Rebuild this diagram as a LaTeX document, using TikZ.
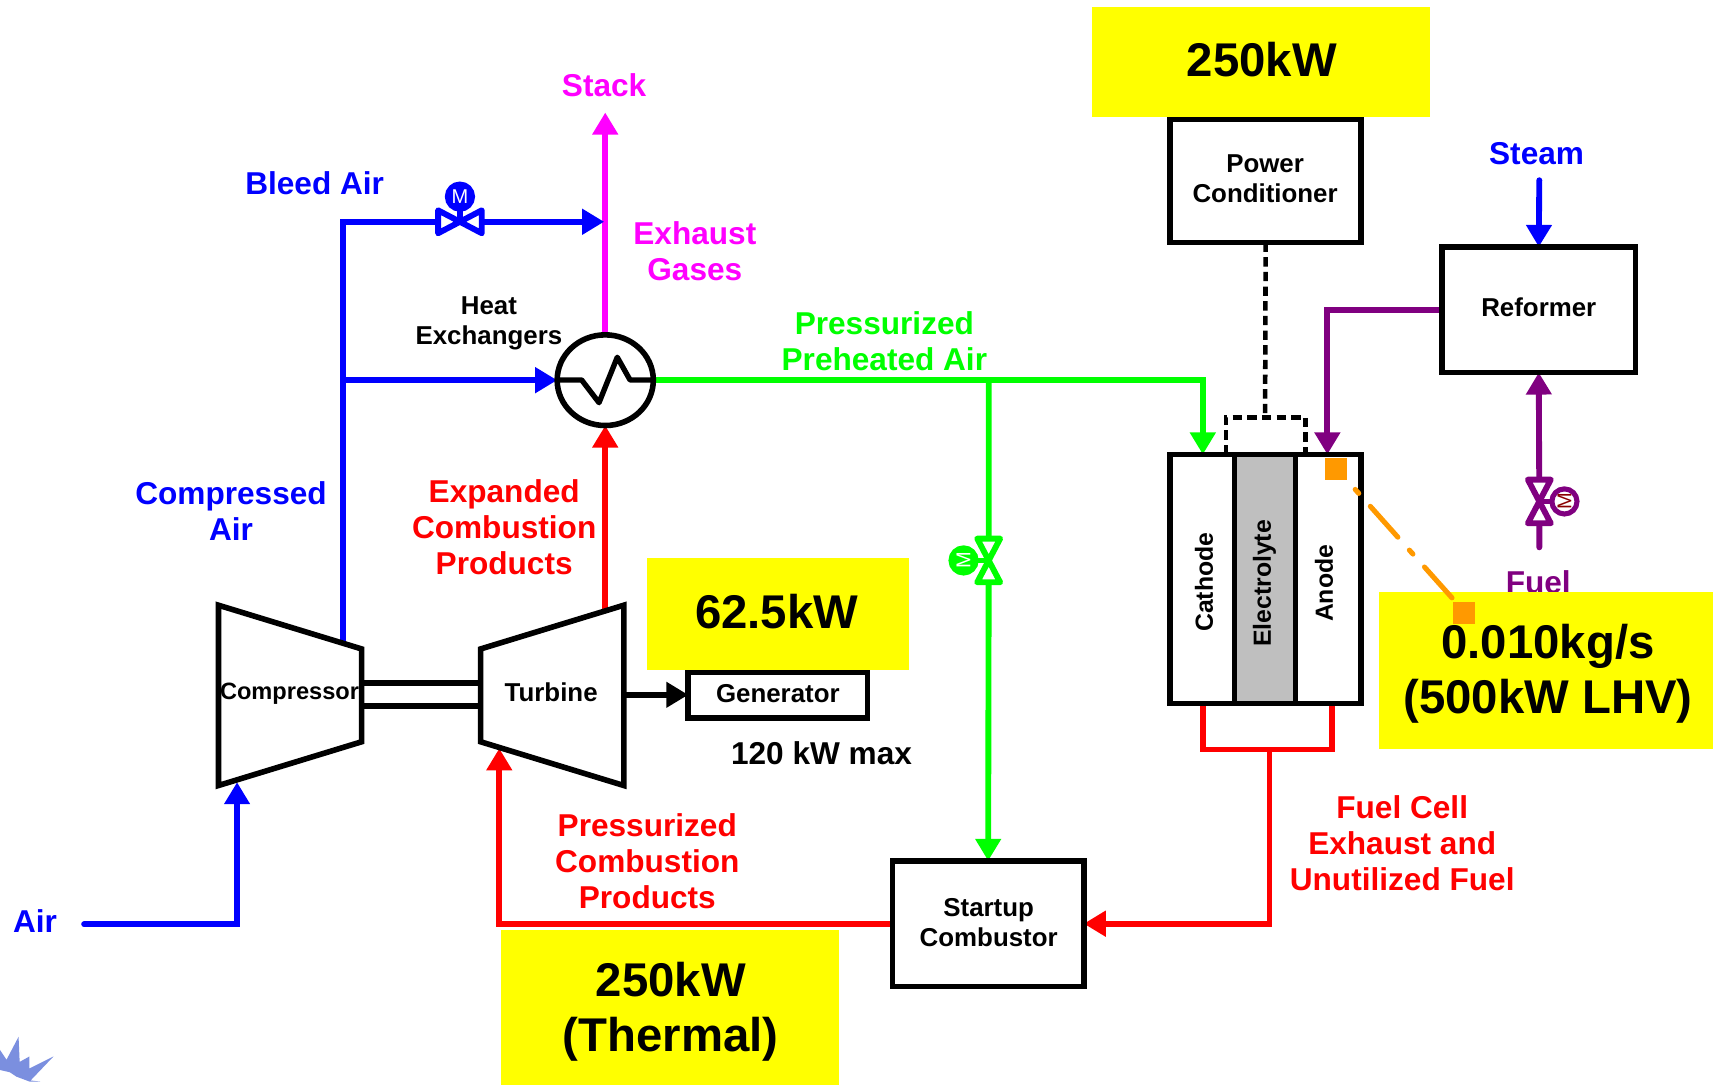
\documentclass[tikz,border=0pt]{standalone}
\usepackage{fontspec}
\setmainfont{Liberation Sans}
\usetikzlibrary{arrows.meta,shapes.geometric}
\pgfdeclarelayer{lines}
\pgfsetlayers{lines,main}
\def\un{0.8194pt}
\definecolor{cblue}{HTML}{0000FF}
\definecolor{cred}{HTML}{FF0000}
\definecolor{cgreen}{HTML}{00FF00}
\definecolor{cmag}{HTML}{FF00FF}
\definecolor{cpur}{HTML}{800080}
\definecolor{cyel}{HTML}{FFFF00}
\definecolor{corg}{HTML}{FF9900}
\definecolor{cgray}{HTML}{BFBFBF}
\definecolor{cstar}{HTML}{7B8FDF}
\definecolor{cdred}{HTML}{8B0000}
\tikzset{
  tip/.tip={Triangle[length=16.5pt,width=18.5pt]},
  flow/.style={line width=4.4pt,line join=miter,-{tip}},
  flowplain/.style={line width=4.4pt,line join=miter},
  blk/.style={draw=black,line width=4.2pt,fill=white,align=center,inner sep=0pt,outer sep=0pt,font=\smalltxt},
  lbl/.style={align=center,inner sep=0pt,font=\midtxt},
  smalllbl/.style={align=center,inner sep=0pt,font=\smalltxt},
  bigbox/.style={fill=cyel,inner sep=0pt,align=center,font=\bigtxt},
  osquare/.style={fill=corg,inner sep=0pt,minimum width=20*\un,minimum height=20*\un},
  machine/.style={draw=black,line width=4.2pt,line join=miter,fill=white},
  celllbl/.style={rotate=90,align=center,inner sep=0pt,font=\fontsize{18.6}{22}\bfseries\selectfont},
}
\newcommand\smalltxt{\fontsize{19.4}{22}\bfseries\selectfont}
\newcommand\midtxt{\fontsize{23.7}{27}\bfseries\selectfont}
\newcommand\bigtxt{\fontsize{35.5}{41}\bfseries\selectfont}
% name, x, y, rotation, colour, disc fill, letter colour, letter rotation
\newcommand\valvesym[8]{%
  \begin{scope}[shift={(#2,#3)},rotate=#4]
    \draw[#5,line width=4.4pt,line join=round,fill=white]
      (-20,-10.5) -- (20,10.5) -- (20,-10.5) -- (-20,10.5) -- cycle;
    \draw[#5,line width=4.4pt] (0,0) -- (0,-15);
    \draw[#5,line width=3.8pt,fill=#6] (0,-23) circle[radius=11.5];
    \node[text=#7,inner sep=0pt,font=\fontsize{15}{15}\selectfont,rotate=#8] (#1m) at (0,-23) {M};
  \end{scope}}
\begin{document}
\begin{tikzpicture}[x=\un,y=-\un]
\useasboundingbox (0,0) rectangle (1568,993.2);
% named points
\coordinate (airStart) at (77,846);
\coordinate (compIn) at (217,716);
\coordinate (compOut) at (314,590);
\coordinate (bleedTop) at (314,203);
\coordinate (hxTee) at (314,348);
\coordinate (v1) at (421,203);
\coordinate (stackTee) at (553,203);
\coordinate (stackTop) at (554,103);
\coordinate (turbOut) at (554,557);
\coordinate (turbIn) at (457,685);
\coordinate (greenTee) at (905,348);
\coordinate (v2) at (905,513);
\coordinate (v3) at (1409,459);
\coordinate (fuelStart) at (1409,501);
\coordinate (steamStart) at (1409,165);
\coordinate (dashTee) at (1158,382);
\coordinate (redTee) at (1162,686);
\coordinate (cathIn) at (1101,416);
\coordinate (anIn) at (1215,416);
\coordinate (cathOut) at (1101,644);
\coordinate (anOut) at (1219,644);
\coordinate (dashL) at (1122,416);
\coordinate (dashR) at (1195,416);
\coordinate (shaftA1) at (331,625);
\coordinate (shaftA2) at (440,625);
\coordinate (shaftB1) at (331,646);
\coordinate (shaftB2) at (440,646);
\coordinate (turbE) at (571,636);
\coordinate (o1) at (1240.5,448);
\coordinate (o2) at (1336,555);
% nodes connected below
\node[blk,minimum width=175*\un,minimum height=113*\un] (pc) at (1158.5,165.5) {};
\node[smalllbl] (pct) at (1158,163.5) {Power\\Conditioner};
\node[blk,minimum width=177*\un,minimum height=115*\un] (ref) at (1408.5,283.5) {};
\node[smalllbl] (reft) at (1408.5,281.5) {Reformer};
\node[blk,minimum width=164*\un,minimum height=42*\un] (gen) at (712,636) {};
\node[smalllbl] (gent) at (712,635) {Generator};
\node[blk,minimum width=175*\un,minimum height=115*\un] (comb) at (904.5,845.5) {};
\node[smalllbl] (combt) at (905,844.5) {Startup\\Combustor};
\node[draw=black,line width=4.2pt,fill=white,ellipse,inner sep=0pt,outer sep=0pt,minimum width=88*\un,minimum height=83*\un] (hx) at (554,348) {};
\node[draw=black,line width=4.2pt,fill=white,inner sep=0pt,outer sep=0pt,minimum width=175*\un,minimum height=228*\un] (cell) at (1158.5,530) {};
% connectors
\begin{pgfonlayer}{lines}
\draw[flow,cblue,line cap=round] (airStart) -| (compIn);
\draw[flowplain,cblue] (compOut) -- (hxTee);
\draw[flow,cblue] (hxTee) -- (hx.west);
\draw[flow,cmag] (hx.north) -- (stackTop);
\draw[flow,cblue] (hxTee) -- (bleedTop) -- (v1) -- (stackTee);
\draw[flow,cred] (turbOut) -- (hx.south);
\draw[flow,cgreen] (hx.east) -- (greenTee) -| (cathIn);
\draw[flow,cgreen] (greenTee) -- (v2) -- (comb.north);
\draw[flow,cpur] (ref.west) -| (anIn);
\draw[flow,cpur,line cap=round] (fuelStart) -- (v3) -- (ref.south);
\draw[flow,cblue,line cap=round] (steamStart) -- (ref.north);
\draw[flowplain,cred] (cathOut) |- (redTee) -| (anOut);
\draw[flow,cred] (redTee) |- (comb.east);
\draw[flow,cred] (comb.west) -| (turbIn);
\draw[black,line width=3.4pt,dash pattern=on 7pt off 4pt] (pc.south) -- (dashTee);
\draw[black,line width=3.4pt,dash pattern=on 7pt off 4pt] (dashL) |- (dashTee) -| (dashR);
\draw[black,line width=4.4pt] (shaftA1) -- (shaftA2);
\draw[black,line width=4.4pt] (shaftB1) -- (shaftB2);
\draw[flow,black] (turbE) -- (gen.west);
\end{pgfonlayer}
% machines
\draw[machine] (200,554) -- (331,594) -- (331,679) -- (200,719) -- cycle;
\draw[machine] (440,594) -- (571,554) -- (571,719) -- (440,679) -- cycle;
\draw[black,line width=4pt,line join=round] (512.6,347.8) -- (532.4,347.8) -- (548.3,368.6) -- (565,327) -- (576.7,347.8) -- (596.5,347.8);
% fuel cell interior
\node[draw=black,line width=4.2pt,fill=cgray,inner sep=0pt,outer sep=0pt,minimum width=56*\un,minimum height=228*\un] (elec) at (1158,530) {};
\node[celllbl] (tCath) at (1102,533) {Cathode};
\node[celllbl] (tElec) at (1157.5,534) {Electrolyte};
\node[celllbl] (tAn) at (1212,534) {Anode};
% valves
\valvesym{vb}{421}{203}{0}{cblue}{cblue}{white}{0}
\valvesym{vg}{905}{513}{90}{cgreen}{cgreen}{white}{90}
\valvesym{vp}{1409}{459}{-90}{cpur}{white}{cdred}{90}
% labels
\node[lbl,text=cpur] (fuel) at (1408,533) {Fuel};
% yellow boxes
\node[bigbox,minimum width=309*\un,minimum height=101*\un] (y1) at (1154.5,56.5) {};
\node[inner sep=0pt,font=\bigtxt] (y1t) at (1155,54.5) {250kW};
\node[bigbox,minimum width=240*\un,minimum height=102*\un] (y2) at (712,562) {};
\node[inner sep=0pt,font=\bigtxt] (y2t) at (711,560) {62.5kW};
\node[bigbox,minimum width=306*\un,minimum height=144*\un] (y3) at (1415,614) {};
\node[inner sep=0pt,align=center,font=\bigtxt] (y3t) at (1417,617) {0.010kg/s\\(500kW LHV)};
\node[bigbox,minimum width=309*\un,minimum height=142*\un] (y4) at (613.5,922) {};
\node[inner sep=0pt,align=center,font=\bigtxt] (y4t) at (614,926) {250kW\\(Thermal)};
% orange callout
\draw[corg,line width=3.8pt,line cap=round,dash pattern=on 4pt off 13pt on 31pt off 13pt] (o1) -- (o2);
\node[osquare] (sq1) at (1223,429) {};
\node[osquare] (sq2) at (1340,561) {};
% texts
\node[lbl,text=cmag] (tStack) at (553,78) {Stack};
\node[lbl,text=cblue] (tBleed) at (288,168) {Bleed Air};
\node[lbl,text=cmag] (tExh) at (636,230) {Exhaust\\Gases};
\node[smalllbl] (tHx) at (447.5,296) {Heat\\Exchangers};
\node[lbl,text=cgreen] (tPre) at (809.5,312.5) {Pressurized\\Preheated Air};
\node[lbl,text=cblue] (tSteam) at (1406.5,141) {Steam};
\node[lbl,text=cblue] (tComp) at (211.5,468) {Compressed\\Air};
\node[lbl,text=cred] (tExp) at (461.5,483) {Expanded\\Combustion\\Products};
\node[smalllbl,font=\fontsize{17.7}{20}\bfseries\selectfont] (tC) at (265,635) {Compressor};
\node[smalllbl] (tT) at (504.5,633.5) {Turbine};
\node[lbl,text=black] (tMax) at (752,689) {120 kW max};
\node[lbl,text=cred] (tFc) at (1283.5,772) {Fuel Cell\\Exhaust and\\Unutilized Fuel};
\node[lbl,text=cred] (tPcp) at (592.5,788) {Pressurized\\Combustion\\Products};
\node[lbl,text=cblue] (tAir) at (32,843) {Air};
% corner mark
\fill[cstar] (0,961) -- (6,970) -- (17,949) -- (18,972) -- (27,967) -- (27,978) -- (49,967) -- (28,989) -- (37,990) -- (27,990) -- (15,985.5) -- (9,981.5) -- (0,979.4) -- cycle;
\end{tikzpicture}
\end{document}
